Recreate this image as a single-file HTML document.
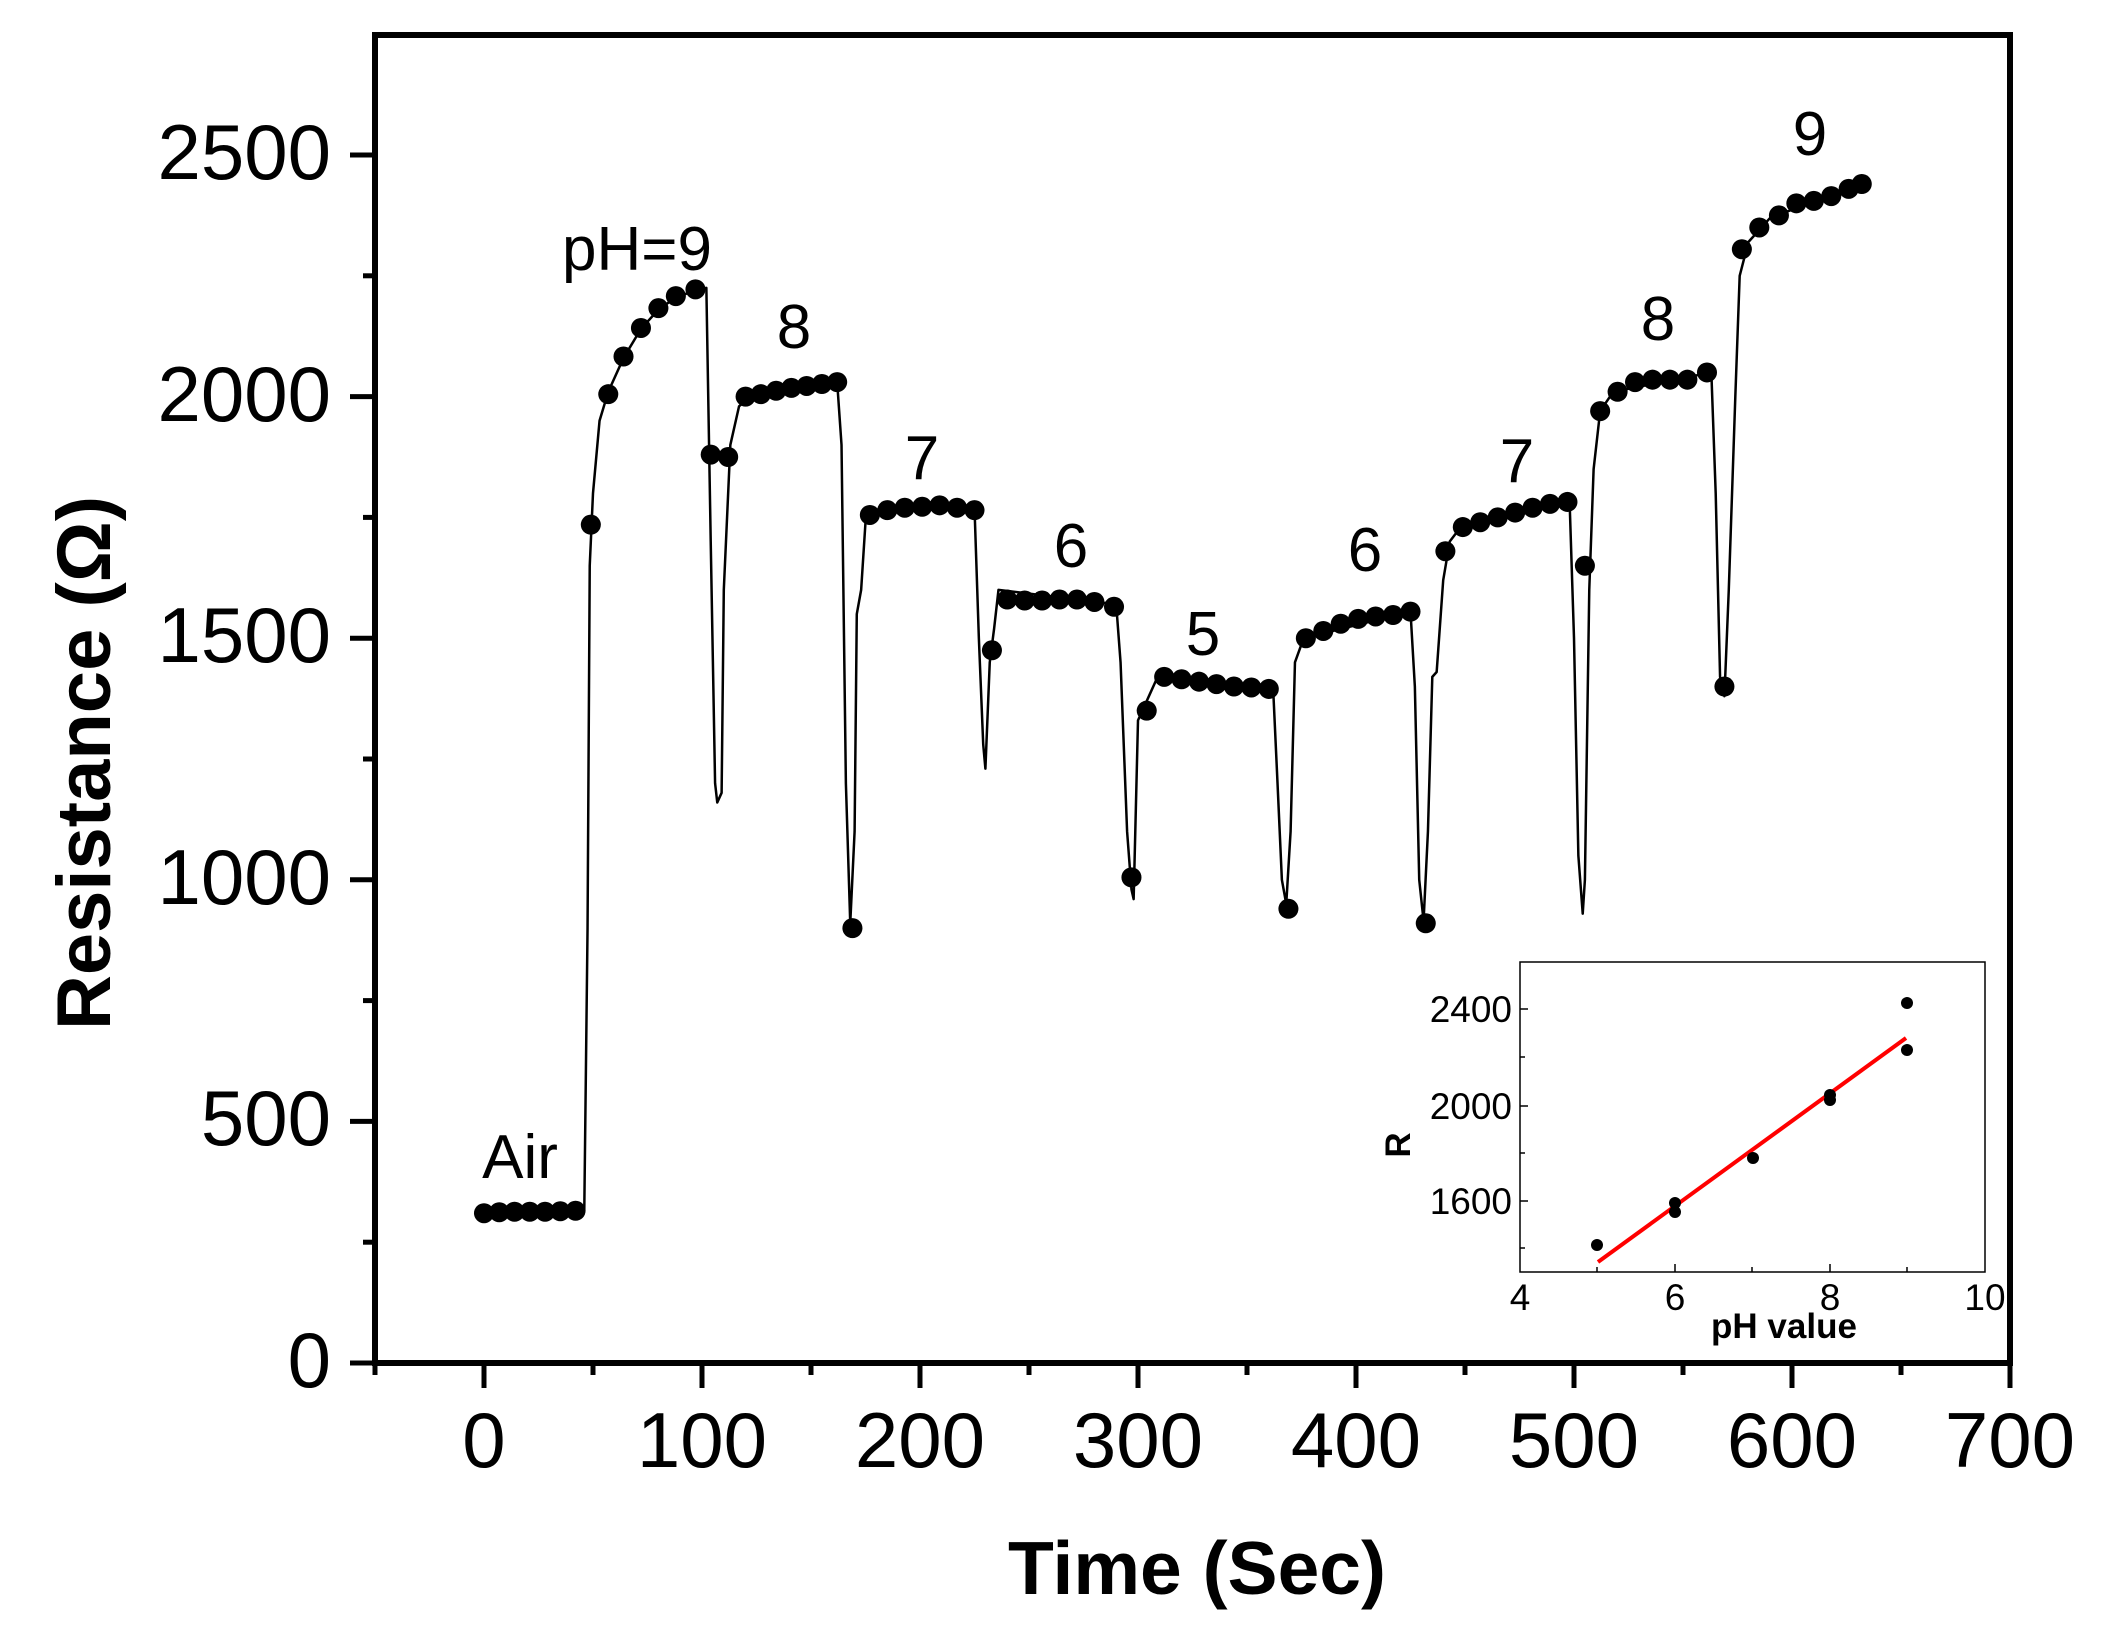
<!DOCTYPE html>
<html><head><meta charset="utf-8"><style>
html,body{margin:0;padding:0;background:#fff;}
svg{display:block;}
text{font-family:"Liberation Sans",Arial,sans-serif;fill:#000;}
</style></head><body>
<svg width="2106" height="1636" viewBox="0 0 2106 1636" xmlns="http://www.w3.org/2000/svg">
<rect x="375" y="35" width="1635" height="1328" fill="none" stroke="#000" stroke-width="6"/>
<g stroke="#000" stroke-width="5">
<line x1="350" y1="1363" x2="375" y2="1363"/>
<line x1="350" y1="1121.4" x2="375" y2="1121.4"/>
<line x1="350" y1="879.8" x2="375" y2="879.8"/>
<line x1="350" y1="638.2" x2="375" y2="638.2"/>
<line x1="350" y1="396.6" x2="375" y2="396.6"/>
<line x1="350" y1="155" x2="375" y2="155"/>
<line x1="363" y1="1242.2" x2="375" y2="1242.2"/>
<line x1="363" y1="1000.6" x2="375" y2="1000.6"/>
<line x1="363" y1="759" x2="375" y2="759"/>
<line x1="363" y1="517.4" x2="375" y2="517.4"/>
<line x1="363" y1="275.8" x2="375" y2="275.8"/>
<line x1="484" y1="1363" x2="484" y2="1388"/>
<line x1="702" y1="1363" x2="702" y2="1388"/>
<line x1="920" y1="1363" x2="920" y2="1388"/>
<line x1="1138" y1="1363" x2="1138" y2="1388"/>
<line x1="1356" y1="1363" x2="1356" y2="1388"/>
<line x1="1574" y1="1363" x2="1574" y2="1388"/>
<line x1="1792" y1="1363" x2="1792" y2="1388"/>
<line x1="2010" y1="1363" x2="2010" y2="1388"/>
<line x1="375" y1="1363" x2="375" y2="1375"/>
<line x1="593" y1="1363" x2="593" y2="1375"/>
<line x1="811" y1="1363" x2="811" y2="1375"/>
<line x1="1029" y1="1363" x2="1029" y2="1375"/>
<line x1="1247" y1="1363" x2="1247" y2="1375"/>
<line x1="1465" y1="1363" x2="1465" y2="1375"/>
<line x1="1683" y1="1363" x2="1683" y2="1375"/>
<line x1="1901" y1="1363" x2="1901" y2="1375"/>
</g>
<g font-size="78" text-anchor="end">
<text x="331" y="1387">0</text>
<text x="331" y="1145">500</text>
<text x="331" y="904">1000</text>
<text x="331" y="662">1500</text>
<text x="331" y="421">2000</text>
<text x="331" y="179">2500</text>
</g>
<g font-size="78" text-anchor="middle">
<text x="484" y="1467">0</text>
<text x="702" y="1467">100</text>
<text x="920" y="1467">200</text>
<text x="1138" y="1467">300</text>
<text x="1356" y="1467">400</text>
<text x="1574" y="1467">500</text>
<text x="1792" y="1467">600</text>
<text x="2010" y="1467">700</text>
</g>
<text x="1197" y="1594" font-size="75" font-weight="bold" text-anchor="middle">Time (Sec)</text>
<text transform="translate(110,763) rotate(-90)" font-size="76" font-weight="bold" text-anchor="middle">Resistance (Ω)</text>

<g transform="matrix(2.18,0,0,-0.4832,484,1363)">
<path fill="none" stroke="#000" stroke-width="2.5" vector-effect="non-scaling-stroke" stroke-linejoin="round" d="M0,310 L46,315 L47.5,900 L48.5,1650 L50,1800 L53,1950 L57,2010 L64,2080 L72,2140 L80,2180 L88,2205 L97,2220 L102,2225 L104,1700 L106,1200 L107,1160 L109,1180 L110,1600 L113,1900 L117,1980 L122,2000 L162,2030 L164,1900 L166,1200 L168,910 L170,1100 L171,1550 L173,1600 L175,1740 L180,1760 L225,1770 L227,1500 L229,1280 L230,1230 L232,1450 L234,1520 L236,1600 L290,1570 L292,1450 L295,1100 L297,980 L298,960 L300,1330 L305,1380 L309,1420 L362,1395 L364,1200 L366,1000 L368,950 L370,1100 L372,1450 L376,1500 L425,1555 L427,1400 L429,1000 L431,915 L433,1100 L435,1420 L437,1430 L440,1620 L443,1700 L448,1730 L498,1780 L500,1500 L502,1050 L504,930 L505,1000 L507,1600 L509,1850 L512,1970 L518,2010 L563,2050 L565,1800 L567,1420 L569,1380 L571,1600 L574,2000 L576,2250 L580,2320 L590,2370 L632,2440"/>
<g fill="#000">
<ellipse cx="0" cy="310" rx="4.6" ry="20.7"/><ellipse cx="7" cy="312" rx="4.6" ry="20.7"/><ellipse cx="14" cy="313" rx="4.6" ry="20.7"/><ellipse cx="21" cy="313" rx="4.6" ry="20.7"/><ellipse cx="28" cy="313" rx="4.6" ry="20.7"/><ellipse cx="35" cy="314" rx="4.6" ry="20.7"/><ellipse cx="42" cy="315" rx="4.6" ry="20.7"/>
<ellipse cx="49" cy="1735" rx="4.6" ry="20.7"/><ellipse cx="57" cy="2005" rx="4.6" ry="20.7"/><ellipse cx="64" cy="2083" rx="4.6" ry="20.7"/><ellipse cx="72" cy="2142" rx="4.6" ry="20.7"/><ellipse cx="80" cy="2183" rx="4.6" ry="20.7"/><ellipse cx="88" cy="2208" rx="4.6" ry="20.7"/><ellipse cx="97" cy="2222" rx="4.6" ry="20.7"/>
<ellipse cx="104" cy="1880" rx="4.6" ry="20.7"/><ellipse cx="112" cy="1875" rx="4.6" ry="20.7"/>
<ellipse cx="120" cy="2000" rx="4.6" ry="20.7"/><ellipse cx="127" cy="2005" rx="4.6" ry="20.7"/><ellipse cx="134" cy="2012" rx="4.6" ry="20.7"/><ellipse cx="141" cy="2018" rx="4.6" ry="20.7"/><ellipse cx="148" cy="2022" rx="4.6" ry="20.7"/><ellipse cx="155" cy="2026" rx="4.6" ry="20.7"/><ellipse cx="162" cy="2030" rx="4.6" ry="20.7"/>
<ellipse cx="169" cy="900" rx="4.6" ry="20.7"/>
<ellipse cx="177" cy="1755" rx="4.6" ry="20.7"/><ellipse cx="185" cy="1765" rx="4.6" ry="20.7"/><ellipse cx="193" cy="1770" rx="4.6" ry="20.7"/><ellipse cx="201" cy="1772" rx="4.6" ry="20.7"/><ellipse cx="209" cy="1775" rx="4.6" ry="20.7"/><ellipse cx="217" cy="1770" rx="4.6" ry="20.7"/><ellipse cx="225" cy="1765" rx="4.6" ry="20.7"/>
<ellipse cx="233" cy="1475" rx="4.6" ry="20.7"/>
<ellipse cx="240" cy="1580" rx="4.6" ry="20.7"/><ellipse cx="248" cy="1578" rx="4.6" ry="20.7"/><ellipse cx="256" cy="1578" rx="4.6" ry="20.7"/><ellipse cx="264" cy="1580" rx="4.6" ry="20.7"/><ellipse cx="272" cy="1580" rx="4.6" ry="20.7"/><ellipse cx="280" cy="1575" rx="4.6" ry="20.7"/><ellipse cx="289" cy="1565" rx="4.6" ry="20.7"/>
<ellipse cx="297" cy="1005" rx="4.6" ry="20.7"/><ellipse cx="304" cy="1350" rx="4.6" ry="20.7"/>
<ellipse cx="312" cy="1420" rx="4.6" ry="20.7"/><ellipse cx="320" cy="1415" rx="4.6" ry="20.7"/><ellipse cx="328" cy="1410" rx="4.6" ry="20.7"/><ellipse cx="336" cy="1405" rx="4.6" ry="20.7"/><ellipse cx="344" cy="1400" rx="4.6" ry="20.7"/><ellipse cx="352" cy="1398" rx="4.6" ry="20.7"/><ellipse cx="360" cy="1395" rx="4.6" ry="20.7"/>
<ellipse cx="369" cy="940" rx="4.6" ry="20.7"/>
<ellipse cx="377" cy="1500" rx="4.6" ry="20.7"/><ellipse cx="385" cy="1515" rx="4.6" ry="20.7"/><ellipse cx="393" cy="1530" rx="4.6" ry="20.7"/><ellipse cx="401" cy="1540" rx="4.6" ry="20.7"/><ellipse cx="409" cy="1545" rx="4.6" ry="20.7"/><ellipse cx="417" cy="1548" rx="4.6" ry="20.7"/><ellipse cx="425" cy="1555" rx="4.6" ry="20.7"/>
<ellipse cx="432" cy="910" rx="4.6" ry="20.7"/><ellipse cx="441" cy="1680" rx="4.6" ry="20.7"/>
<ellipse cx="449" cy="1730" rx="4.6" ry="20.7"/><ellipse cx="457" cy="1740" rx="4.6" ry="20.7"/><ellipse cx="465" cy="1750" rx="4.6" ry="20.7"/><ellipse cx="473" cy="1760" rx="4.6" ry="20.7"/><ellipse cx="481" cy="1770" rx="4.6" ry="20.7"/><ellipse cx="489" cy="1778" rx="4.6" ry="20.7"/><ellipse cx="497" cy="1782" rx="4.6" ry="20.7"/>
<ellipse cx="505" cy="1650" rx="4.6" ry="20.7"/>
<ellipse cx="512" cy="1970" rx="4.6" ry="20.7"/><ellipse cx="520" cy="2010" rx="4.6" ry="20.7"/><ellipse cx="528" cy="2030" rx="4.6" ry="20.7"/><ellipse cx="536" cy="2035" rx="4.6" ry="20.7"/><ellipse cx="544" cy="2035" rx="4.6" ry="20.7"/><ellipse cx="552" cy="2035" rx="4.6" ry="20.7"/><ellipse cx="561" cy="2050" rx="4.6" ry="20.7"/>
<ellipse cx="569" cy="1400" rx="4.6" ry="20.7"/>
<ellipse cx="577" cy="2305" rx="4.6" ry="20.7"/><ellipse cx="585" cy="2350" rx="4.6" ry="20.7"/><ellipse cx="594" cy="2375" rx="4.6" ry="20.7"/><ellipse cx="602" cy="2400" rx="4.6" ry="20.7"/><ellipse cx="610" cy="2405" rx="4.6" ry="20.7"/><ellipse cx="618" cy="2415" rx="4.6" ry="20.7"/><ellipse cx="626" cy="2430" rx="4.6" ry="20.7"/><ellipse cx="632" cy="2440" rx="4.6" ry="20.7"/>
</g>
</g>

<g font-size="62" text-anchor="middle">
<text x="520" y="1178">Air</text>
<text x="637" y="270">pH=9</text>
<text x="794" y="348">8</text>
<text x="922" y="479">7</text>
<text x="1071" y="567">6</text>
<text x="1203" y="655">5</text>
<text x="1365" y="571">6</text>
<text x="1517" y="482">7</text>
<text x="1658" y="340">8</text>
<text x="1810" y="155">9</text>
</g>

<rect x="1520" y="962" width="465" height="310" fill="none" stroke="#000" stroke-width="1.5"/>
<g stroke="#000" stroke-width="1.5">
<line x1="1520" y1="1009" x2="1528" y2="1009"/>
<line x1="1520" y1="1106" x2="1528" y2="1106"/>
<line x1="1520" y1="1201" x2="1528" y2="1201"/>
<line x1="1520" y1="1057" x2="1525" y2="1057"/>
<line x1="1520" y1="1153" x2="1525" y2="1153"/>
<line x1="1520" y1="1248" x2="1525" y2="1248"/>
<line x1="1675" y1="1272" x2="1675" y2="1264"/>
<line x1="1830" y1="1272" x2="1830" y2="1264"/>
<line x1="1597" y1="1272" x2="1597" y2="1267"/>
<line x1="1752" y1="1272" x2="1752" y2="1267"/>
<line x1="1907" y1="1272" x2="1907" y2="1267"/>
</g>
<g font-size="37" text-anchor="end">
<text x="1512" y="1022">2400</text>
<text x="1512" y="1119">2000</text>
<text x="1512" y="1214">1600</text>
</g>
<g font-size="37" text-anchor="middle">
<text x="1520" y="1310">4</text>
<text x="1675" y="1310">6</text>
<text x="1830" y="1310">8</text>
<text x="1985" y="1310">10</text>
</g>
<text x="1784" y="1338" font-size="35" font-weight="bold" text-anchor="middle">pH value</text>
<text transform="translate(1410,1145) rotate(-90)" font-size="35" font-weight="bold" text-anchor="middle">R</text>
<line x1="1598" y1="1262" x2="1906" y2="1038" stroke="#ff0000" stroke-width="4"/>
<g fill="#000">
<circle cx="1597" cy="1245" r="6"/>
<circle cx="1675" cy="1203" r="6"/>
<circle cx="1675" cy="1212" r="6"/>
<circle cx="1753" cy="1158" r="6"/>
<circle cx="1830" cy="1095" r="6"/>
<circle cx="1830" cy="1100" r="6"/>
<circle cx="1907" cy="1003" r="6"/>
<circle cx="1907" cy="1050" r="6"/>
</g>
</svg>
</body></html>
